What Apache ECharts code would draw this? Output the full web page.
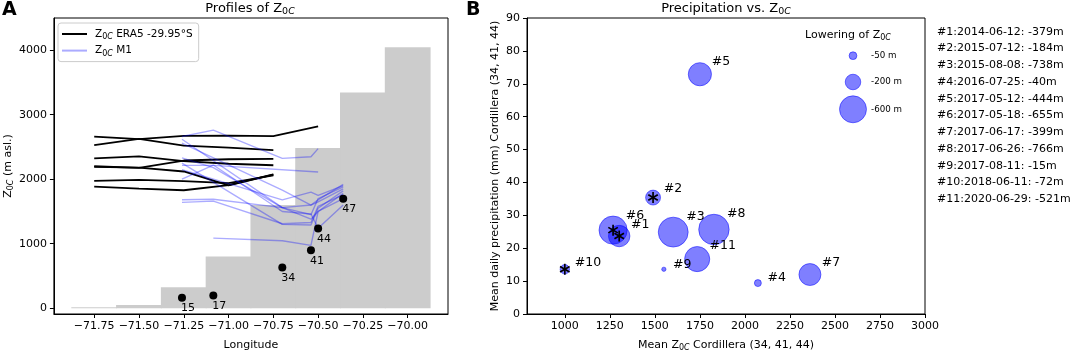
<!DOCTYPE html>
<html>
<head>
<meta charset="utf-8">
<script src="https://cdn.jsdelivr.net/npm/echarts@6/dist/echarts.min.js"></script>
<style>
  html, body { margin: 0; padding: 0; background: #fff; }
  #chart { width: 1072px; height: 357px; }
</style>
</head>
<body>
<div id="chart"></div>
<script>
// ---- panel A data ----
const lonTicks = [-71.75, -71.5, -71.25, -71.0, -70.75, -70.5, -70.25, -70.0];
const z0Ticks = [0, 1000, 2000, 3000, 4000];
const terrainLon = [-71.75, -71.5, -71.25, -71.0, -70.75, -70.5, -70.25, -70.0];
const terrainElev = [15, 50, 323, 800, 1600, 2485, 3344, 4045];
const era5Lat = '-29.95°S';
const era5Lon = [-71.75, -71.5, -71.25, -71.0, -70.75, -70.5];
const era5Lines = [
  [2662, 2621, 2671, 2677, 2667, 2818],
  [2530, 2626, 2520, 2490, 2450],
  [2323, 2353, 2280, 2240, 2217],
  [2201, 2177, 2290, 2310, 2314],
  [2190, 2180, 2120, 1905, 2070],
  [1974, 1989, 1970, 1940, 2060],
  [1884, 1855, 1829, 1910, 2075]
];
const stationNames = ['15', '17', '34', '41', '44', '47'];
const stationLon = [-71.26, -71.085, -70.70, -70.54, -70.50, -70.36];
const stationElev = [162, 197, 631, 899, 1237, 1697];
// M1 profiles, one value per station (null = no value)
const m1Lines = [
  [2662, 2762, 2323, 2348, 2475, null],
  [2620, null, 1560, 1380, 1500, 1780],
  [2560, null, 1830, 1600, 1650, 1850],
  [2330, 2180, 1560, 1450, 1700, 1880],
  [2250, null, 1300, 1290, 1550, 1820],
  [2150, null, 1680, 1800, 1750, 1900],
  [1682, 1690, 1560, 1600, 1680, 1920],
  [1641, 1660, 1310, 1330, 1580, 1760],
  [null, 1086, 1045, 974, 1500, 1700],
  [2214, 2214, null, null, 2111, null],
  [2000, 2220, 1500, 1460, 1240, 1600]
];

// ---- panel B data ----
const zTicks = [1000, 1250, 1500, 1750, 2000, 2250, 2500, 2750, 3000];
const eventNo = [1, 2, 3, 4, 5, 6, 7, 8, 9, 10, 11];
const eventDate = ['2014-06-12', '2015-07-12', '2015-08-08', '2016-07-25', '2017-05-12', '2017-05-18',
  '2017-06-17', '2017-06-26', '2017-08-11', '2018-06-11', '2020-06-29'];
const eventDrop = [379, 184, 738, 40, 444, 655, 399, 766, 15, 72, 521];
const eventZ0 = [1302, 1490, 1602, 2072, 1750, 1268, 2361, 1828, 1550, 1000, 1735];
const eventPrecip = [23.7, 35.4, 24.9, 9.4, 72.9, 25.5, 12.0, 25.7, 13.6, 13.6, 16.7];
const starred = [1, 2, 6, 10];
const legendDrops = [50, 200, 600];

const FONT = 'DejaVu Sans';
const BLUE_LINE = 'rgba(0,0,255,0.33)';
const BUBBLE = 'rgba(0,0,255,0.5)';
const radius = d => 0.55 * Math.sqrt(d);
const minus = v => String(v).replace('-', '\u2212');

const subRich = {
  s: { fontFamily: FONT, fontSize: 8, lineHeight: 8, verticalAlign: 'bottom', color: '#000' },
  si: { fontFamily: FONT, fontSize: 8, lineHeight: 8, verticalAlign: 'bottom', fontStyle: 'italic', color: '#000' }
};
const titleRich = {
  s: Object.assign({}, subRich.s, { fontSize: 9.5, lineHeight: 9 }),
  si: Object.assign({}, subRich.si, { fontSize: 9.5, lineHeight: 9 })
};
const Z0C = 'Z{s|0}{si|C}';

const chart = echarts.init(document.getElementById('chart'), null, { renderer: 'canvas' });

const half = (terrainLon[1] - terrainLon[0]) / 2;
const series = [];

series.push({
  type: 'custom', xAxisIndex: 0, yAxisIndex: 0, silent: true, z: 1,
  data: terrainLon.map((x, i) => [x, terrainElev[i]]),
  renderItem: function (params, api) {
    const lon = api.value(0), h = api.value(1);
    const p0 = api.coord([lon - half, h]);
    const p1 = api.coord([lon + half, 0]);
    // widen a little so neighbouring cells leave no seam
    return {
      type: 'rect',
      shape: { x: p0[0] - 0.5, y: p0[1], width: p1[0] - p0[0] + 1, height: p1[1] - p0[1] },
      style: { fill: '#cccccc' }
    };
  }
});

era5Lines.forEach(function (vals) {
  series.push({
    name: 'ERA5', type: 'line', xAxisIndex: 0, yAxisIndex: 0, z: 2,
    symbol: 'none', silent: true,
    data: vals.map((v, i) => [era5Lon[i], v]),
    lineStyle: { color: '#000', width: 1.8 },
    itemStyle: { color: '#000' }
  });
});

m1Lines.forEach(function (vals) {
  const pts = [];
  vals.forEach((v, i) => { if (v !== null) pts.push([stationLon[i], v]); });
  series.push({
    name: 'M1', type: 'line', xAxisIndex: 0, yAxisIndex: 0, z: 3,
    symbol: 'none', silent: true,
    data: pts,
    lineStyle: { color: BLUE_LINE, width: 1.4 },
    itemStyle: { color: BLUE_LINE }
  });
});

series.push({
  type: 'scatter', xAxisIndex: 0, yAxisIndex: 0, z: 4, silent: true,
  symbolSize: 8,
  itemStyle: { color: '#000', opacity: 1 },
  data: stationLon.map((x, i) => ({
    value: [x, stationElev[i]],
    label: {
      show: true, formatter: stationNames[i], position: 'bottom', align: 'left',
      distance: 1, offset: [-1, 0],
      fontFamily: FONT, fontSize: 11, color: '#000'
    }
  }))
});

// panel B bubbles
series.push({
  type: 'scatter', xAxisIndex: 1, yAxisIndex: 1, z: 2, silent: true,
  symbolSize: v => 2 * radius(v[2]),
  itemStyle: { color: BUBBLE, borderColor: BUBBLE, borderWidth: 1, opacity: 1 },
  data: eventZ0.map((x, i) => {
    const r = radius(eventDrop[i]);
    return {
      value: [x, eventPrecip[i], eventDrop[i]],
      label: {
        show: true, formatter: '#' + eventNo[i], position: 'right', distance: 0,
        offset: [8 - 0.7 * r, -(2.5 + 0.85 * r)],
        fontFamily: FONT, fontSize: 12.5, color: '#000'
      }
    };
  })
});

series.push({
  type: 'custom', xAxisIndex: 1, yAxisIndex: 1, z: 5, silent: true,
  data: starred.map(n => [eventZ0[n - 1], eventPrecip[n - 1]]),
  renderItem: function (params, api) {
    const p = api.coord([api.value(0), api.value(1)]);
    const arm = 5.5;
    const kids = [90, 30, 150].map(function (deg) {
      const a = deg * Math.PI / 180;
      const dx = Math.cos(a) * arm, dy = Math.sin(a) * arm;
      return {
        type: 'line',
        shape: { x1: p[0] - dx, y1: p[1] - dy, x2: p[0] + dx, y2: p[1] + dy },
        style: { stroke: '#000', lineWidth: 1.7 }
      };
    });
    return { type: 'group', children: kids };
  }
});

const axisCommon = {
  axisLine: { show: true, onZero: false, lineStyle: { color: '#000', width: 1 } },
  axisTick: { show: true, inside: false, length: 4, lineStyle: { color: '#000' } },
  splitLine: { show: false },
  nameLocation: 'middle'
};
const labelCommon = { fontFamily: FONT, fontSize: 11, color: '#000', formatter: v => minus(v) };
const nameCommon = { fontFamily: FONT, fontSize: 11, color: '#000', lineHeight: 14, rich: subRich };

// panel letters, titles, size legend, event list
const graphics = [
  { type: 'text', left: 2, top: 1, style: { text: 'A', font: 'bold 19px "DejaVu Sans"', fill: '#000' } },
  { type: 'text', left: 466, top: 1, style: { text: 'B', font: 'bold 19px "DejaVu Sans"', fill: '#000' } },
  { type: 'text', x: 250, y: 9, style: { text: 'Profiles of ' + Z0C, fontFamily: FONT, fontSize: 13, lineHeight: 16,
    fill: '#000', align: 'center', verticalAlign: 'middle', rich: titleRich } },
  { type: 'text', x: 726, y: 9, style: { text: 'Precipitation vs. ' + Z0C, fontFamily: FONT, fontSize: 13, lineHeight: 16,
    fill: '#000', align: 'center', verticalAlign: 'middle', rich: titleRich } },
  { type: 'text', x: 848, y: 35, style: { text: 'Lowering of ' + Z0C, fontFamily: FONT, fontSize: 11, lineHeight: 14,
    fill: '#000', align: 'center', verticalAlign: 'middle', rich: subRich } }
];
const legendY = [55.7, 82, 109.3];
legendDrops.forEach(function (d, i) {
  graphics.push({ type: 'circle', shape: { cx: 853, cy: legendY[i], r: radius(d) },
    style: { fill: BUBBLE, stroke: BUBBLE, lineWidth: 1 } });
  graphics.push({ type: 'text', x: 871, y: legendY[i], style: { text: '-' + d + ' m', fontFamily: FONT, fontSize: 8.7,
    fill: '#000', verticalAlign: 'middle' } });
});
eventNo.forEach(function (n, i) {
  graphics.push({ type: 'text', x: 937, y: 31.7 + i * 16.76, style: {
    text: '#' + n + ':' + eventDate[i] + ': -' + eventDrop[i] + 'm',
    fontFamily: FONT, fontSize: 11, fill: '#000', verticalAlign: 'middle' } });
});

chart.setOption({
  animation: false,
  backgroundColor: '#fff',
  grid: [
    { left: 53, right: 624, top: 18, bottom: 36, show: true, borderColor: '#000', borderWidth: 1, backgroundColor: 'transparent' },
    { left: 527, right: 147, top: 18, bottom: 35, show: true, borderColor: '#000', borderWidth: 1, backgroundColor: 'transparent' }
  ],
  legend: {
    data: ['ERA5', 'M1'],
    orient: 'vertical', left: 58, top: 23,
    padding: [4, 6, 4, 4], itemGap: 2.6, itemWidth: 25, itemHeight: 2,
    icon: 'rect',
    borderColor: '#cccccc', borderWidth: 1, borderRadius: 3,
    backgroundColor: 'rgba(255,255,255,0.8)',
    selectedMode: false,
    formatter: name => name === 'ERA5' ? Z0C + ' ERA5 ' + era5Lat : Z0C + ' M1',
    textStyle: { fontFamily: FONT, fontSize: 10.5, color: '#000', padding: [0, 0, 0, 3], lineHeight: 14, rich: subRich }
  },
  xAxis: [
    Object.assign({}, axisCommon, {
      type: 'value', gridIndex: 0, min: -71.975, max: -69.775,
      name: 'Longitude', nameGap: 24, nameTextStyle: nameCommon,
      axisTick: Object.assign({}, axisCommon.axisTick, { customValues: lonTicks }),
      axisLabel: Object.assign({}, labelCommon, { customValues: lonTicks, margin: 7,
        formatter: v => minus(v.toFixed(2)) })
    }),
    Object.assign({}, axisCommon, {
      type: 'value', gridIndex: 1, min: 790, max: 3000,
      name: 'Mean ' + Z0C + ' Cordillera (34, 41, 44)', nameGap: 24, nameTextStyle: nameCommon,
      axisTick: Object.assign({}, axisCommon.axisTick, { customValues: zTicks }),
      axisLabel: Object.assign({}, labelCommon, { customValues: zTicks, margin: 7 })
    })
  ],
  yAxis: [
    Object.assign({}, axisCommon, {
      type: 'value', gridIndex: 0, min: -90, max: 4500,
      name: Z0C + ' (m asl.)', nameGap: 36, nameRotate: 90, nameTextStyle: nameCommon,
      axisTick: Object.assign({}, axisCommon.axisTick, { customValues: z0Ticks }),
      axisLabel: Object.assign({}, labelCommon, { customValues: z0Ticks, margin: 7 })
    }),
    Object.assign({}, axisCommon, {
      type: 'value', gridIndex: 1, min: 0, max: 90, interval: 10,
      name: 'Mean daily precipitation (mm) Cordillera (34, 41, 44)', nameGap: 25, nameRotate: 90,
      nameTextStyle: nameCommon,
      axisLabel: Object.assign({}, labelCommon, { margin: 7 })
    })
  ],
  graphic: graphics,
  series: series
});
</script>
</body>
</html>
